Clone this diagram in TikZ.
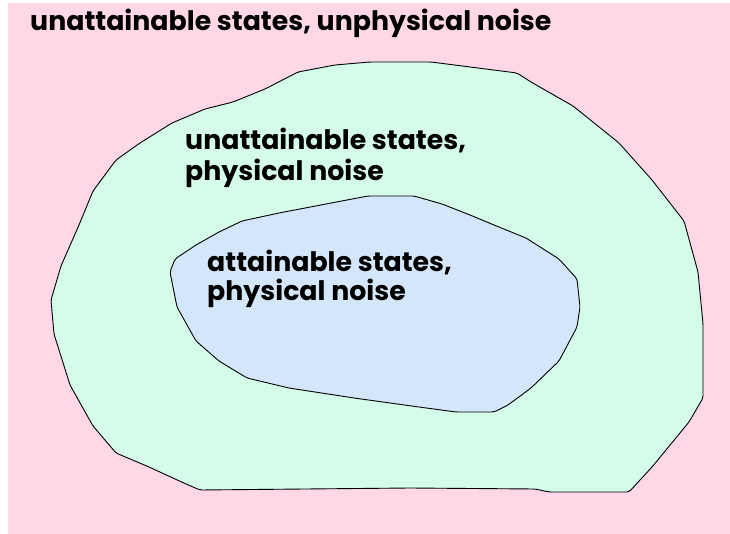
\documentclass[tikz,border=0pt]{standalone}
\usepackage{fontspec}
\setmainfont{Poppins}
\definecolor{bgpink}{RGB}{255,215,231}
\definecolor{outgreen}{RGB}{212,252,232}
\definecolor{inblue}{RGB}{212,230,250}
\begin{document}
\begin{tikzpicture}[x=1pt,y=-1pt,
  blob/.style={draw=black,line width=0.9pt,line join=round,rounded corners=2pt},
  lbl/.style={anchor=base west,inner sep=0pt,font=\bfseries\fontsize{26.8}{32}\selectfont}]
\useasboundingbox (0,0) rectangle (730,534);
\fill[white] (0,0) rectangle (730,534);
\fill[bgpink] (8,3) rectangle (730,534);
\draw[blob,fill=outgreen] (370,62) -- (431,62) -- (517,73) -- (531,82) -- (573,106) -- (619,143) -- (652,180) -- (684,221) -- (698,272) -- (703,324) -- (703,398) -- (689,422) -- (652,467) -- (629,492) -- (549,492) -- (535,489) -- (410,488) -- (200,490) -- (186,484) -- (149,467) -- (116,453) -- (93,426) -- (70,385) -- (54,334) -- (51,300) -- (61,266) -- (79,225) -- (93,191) -- (116,160) -- (140,143) -- (172,123) -- (205,109) -- (233,102) -- (265,89) -- (298,72) -- (335,65) -- cycle;
\draw[blob,fill=inblue] (368,196) -- (414,196) -- (442,204) -- (470,215) -- (494,225) -- (526,238) -- (559,259) -- (577,279) -- (580,307) -- (577,327) -- (559,361) -- (531,388) -- (508,405) -- (494,412) -- (456,412) -- (419,407) -- (354,398) -- (289,388) -- (247,378) -- (219,361) -- (196,341) -- (177,307) -- (170,272) -- (175,259) -- (196,245) -- (219,232) -- (242,221) -- (279,213) -- (326,204) -- cycle;
\node[lbl] (top) at (30,31) {unattainable states, unphysical noise};
\node[lbl] (mid1) at (185,150) {unattainable states,};
\node[lbl] (mid2) at (185,181) {physical noise};
\node[lbl] (inn1) at (207,272) {attainable states,};
\node[lbl] (inn2) at (207,301) {physical noise};
\end{tikzpicture}
\end{document}
